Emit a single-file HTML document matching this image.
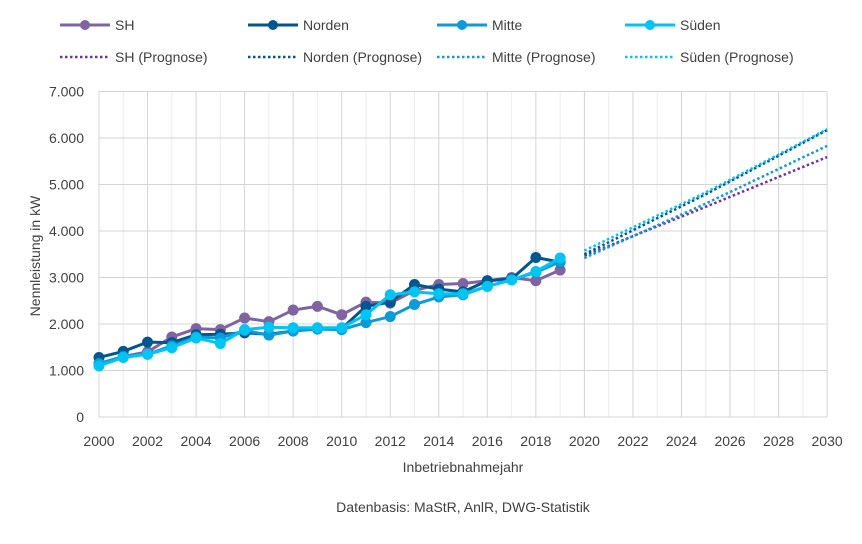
<!DOCTYPE html>
<html><head><meta charset="utf-8"><style>
body{margin:0;background:#fff;font-family:"Liberation Sans",sans-serif;}
svg text{font-family:"Liberation Sans",sans-serif;fill:#404040;}
</style></head><body>
<svg id="c" width="862" height="539"></svg>
<script>
const years=[2000,2001,2002,2003,2004,2005,2006,2007,2008,2009,2010,2011,2012,2013,2014,2015,2016,2017,2018,2019];
const shVals=[1150,1300,1400,1720,1900,1880,2130,2050,2300,2380,2200,2470,2450,2720,2850,2870,2930,3000,2930,3160];
const nordenVals=[1280,1410,1610,1600,1770,1780,1810,1780,1850,1910,1900,2380,2470,2850,2750,2690,2930,2970,3430,3330];
const mitteVals=[1150,1300,1350,1530,1720,1700,1860,1760,1850,1890,1880,2030,2160,2420,2580,2630,2810,2950,3110,3340];
const suedenVals=[1100,1280,1350,1490,1700,1580,1880,1930,1920,1920,1920,2200,2630,2690,2650,2650,2810,2950,3130,3420];
const progYears=[2020,2025,2030];
const shProg=[3470,4520,5590];
const nordenProg=[3500,4790,6170];
const mitteProg=[3420,4590,5830];
const suedenProg=[3580,4830,6190];
const yTicks=[0,1000,2000,3000,4000,5000,6000,7000];
const yTickLabels=["0","1.000","2.000","3.000","4.000","5.000","6.000","7.000"];
const xTicks=[2000,2002,2004,2006,2008,2010,2012,2014,2016,2018,2020,2022,2024,2026,2028,2030];

const NS="http://www.w3.org/2000/svg";
const svg=document.getElementById('c');
const X=y=>99+(y-2000)*24.27;
const Y=v=>417-v*0.0465;
function mk(t,a,p){const e=document.createElementNS(NS,t);for(const k in a)e.setAttribute(k,a[k]);(p||svg).appendChild(e);return e;}
for(let yr=2000;yr<=2030;yr++){
  const g=mk('line',{x1:X(yr),x2:X(yr),y1:Y(7000),y2:Y(0),stroke:yr%2?'#ececec':'#d4d4d4','stroke-width':1});
  
  
}
yTicks.forEach((v,i)=>{
  const g=mk('line',{x1:X(2000),x2:X(2030),y1:Y(v),y2:Y(v),stroke:'#d4d4d4','stroke-width':1});
  
  
  const t=mk('text',{x:84,y:Y(v)+5,'text-anchor':'end','font-size':14});
  t.textContent=yTickLabels[i];
  
  
});
xTicks.forEach(yr=>{
  const t=mk('text',{x:X(yr),y:446,'text-anchor':'middle','font-size':14});
  t.textContent=yr;
  
  
});
const series=[
 ['sh',shVals,shProg,'#8064a2','#7030a0'],
 ['norden',nordenVals,nordenProg,'#00568f','#00568f'],
 ['mitte',mitteVals,mitteProg,'#0c9ad8','#0c9ad8'],
 ['sueden',suedenVals,suedenProg,'#00c4f2','#00c4f2']];
series.forEach(([n,vals,prog,col,pc])=>{
  const pl=mk('polyline',{points:prog.map((v,i)=>X(progYears[i])+','+Y(v)).join(' '),fill:'none',stroke:pc,'stroke-width':2.5,'stroke-dasharray':'2.5 2.5'});
  
  
});
series.forEach(([n,vals,prog,col])=>{
  const l=mk('polyline',{points:vals.map((v,i)=>X(years[i])+','+Y(v)).join(' '),fill:'none',stroke:col,'stroke-width':3});
  
  
  vals.forEach((v,i)=>{
    const c=mk('circle',{cx:X(years[i]),cy:Y(v),r:5.5,fill:col});
    
    
  });
});
const yt=mk('text',{x:0,y:0,transform:'translate(40,256) rotate(-90)','text-anchor':'middle','font-size':14});
yt.textContent='Nennleistung in kW';


const xt=mk('text',{x:463,y:472,'text-anchor':'middle','font-size':14});
xt.textContent='Inbetriebnahmejahr';


const src=mk('text',{x:463,y:512,'text-anchor':'middle','font-size':14});
src.textContent='Datenbasis: MaStR, AnlR, DWG-Statistik';


const legX=[60,248,437,625];
const names=['SH','Norden','Mitte','Süden'];
series.forEach(([n,vals,prog,col,pc],i)=>{
  const g=mk('g',{});
  
  
  mk('line',{x1:legX[i],x2:legX[i]+50,y1:25,y2:25,stroke:col,'stroke-width':3},g);
  mk('circle',{cx:legX[i]+25,cy:25,r:5,fill:col},g);
  const t=mk('text',{x:legX[i]+55,y:30,'font-size':14},g);t.textContent=names[i];
  const g2=mk('g',{});
  
  
  mk('line',{x1:legX[i],x2:legX[i]+50,y1:57,y2:57,stroke:pc,'stroke-width':2.5,'stroke-dasharray':'2.5 2.5'},g2);
  const t2=mk('text',{x:legX[i]+55,y:62,'font-size':14},g2);t2.textContent=names[i]+' (Prognose)';
});
</script>
</body></html>
